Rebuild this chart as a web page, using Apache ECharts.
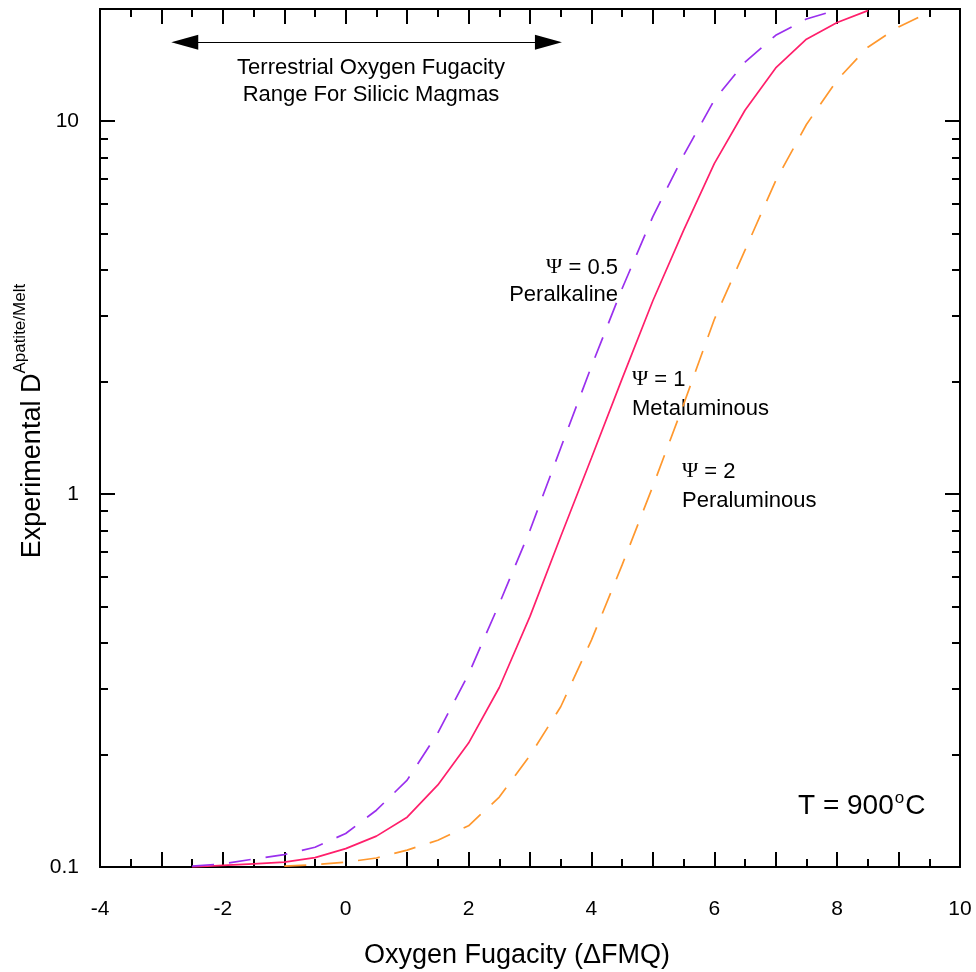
<!DOCTYPE html>
<html>
<head>
<meta charset="utf-8">
<script src="https://cdn.jsdelivr.net/npm/echarts@6/dist/echarts.min.js"></script>
<style>
  html, body { margin: 0; padding: 0; background: #fff; }
  #chart { width: 976px; height: 972px; }
</style>
</head>
<body>
<div id="chart"></div>
<script>
// Oxygen fugacity relative to FMQ buffer (x) — nodes every 0.5 log unit
const dfmq = [-2.5, -2, -1.5, -1, -0.5, 0, 0.5, 1, 1.5, 2, 2.5, 3, 3.5, 4, 4.5,
              5, 5.5, 6, 6.5, 7, 7.5, 8, 8.5, 9, 9.5];

// D(apatite/melt) for three melt compositions (null = outside the curve)
const dPeralkaline = [0.1005, 0.102, 0.105, 0.108, 0.113, 0.123, 0.142, 0.171, 0.229, 0.329,
                      0.508, 0.80, 1.33, 2.2, 3.56, 5.55, 8.1, 11.4, 14.4, 17.0,
                      18.8, 19.9, null, null, null];
const dMetaluminous = [0.1, 0.101, 0.102, 0.103, 0.106, 0.112, 0.121, 0.136, 0.166, 0.215,
                       0.303, 0.47, 0.77, 1.25, 2.04, 3.3, 5.1, 7.7, 10.7, 13.9,
                       16.6, 18.4, 19.8, null, null];
const dPeraluminous = [null, null, null, 0.1005, 0.1015, 0.103, 0.1057, 0.111, 0.118, 0.129,
                       0.154, 0.199, 0.269, 0.406, 0.646, 1.05, 1.74, 2.94, 4.51, 6.93,
                       9.8, 12.9, 15.8, 17.9, 19.6];

// Axis ticks
const xMin = -4, xMax = 10;
const yMin = 0.1, yMax = 20;
const yMajorTicks = [0.1, 1, 10];
const yMinorTicks = [0.2, 0.3, 0.4, 0.5, 0.6, 0.7, 0.8, 0.9, 2, 3, 4, 5, 6, 7, 8, 9];

// Terrestrial fO2 range for silicic magmas (arrow ends) and its height
const rangeStart = -2.62, rangeEnd = 3.30, rangeLevel = 16.3;

const pairs = (ys) => dfmq.map((x, i) => [x, ys[i]]).filter(p => p[1] !== null);

const SANS = 'Liberation Sans, Arial, sans-serif';
const SERIF = 'Liberation Serif, Times New Roman, serif';
const INK = '#000';

const chart = echarts.init(document.getElementById('chart'), null, { renderer: 'canvas' });

const baseX = {
  type: 'value', min: xMin, max: xMax, interval: 1,
  axisLine: { show: true, onZero: false, lineStyle: { color: INK, width: 2 } },
  axisTick: { show: true, inside: true, length: 15, lineStyle: { color: INK, width: 2 } },
  minorTick: { show: true, splitNumber: 2, length: 8, lineStyle: { color: INK, width: 2 } },
  splitLine: { show: false },
  minorSplitLine: { show: false }
};

function logAxis(position, ticks, len, labels) {
  return {
    type: 'log', logBase: 10, min: yMin, max: yMax, position: position,
    axisLine: { show: true, onZero: false, lineStyle: { color: INK, width: 2 } },
    axisTick: { show: true, inside: true, length: len, customValues: ticks,
                lineStyle: { color: INK, width: 2 } },
    axisLabel: labels ? {
      show: true, customValues: ticks, margin: 21,
      color: INK, fontFamily: SANS, fontSize: 21,
      formatter: (v) => String(v)
    } : { show: false },
    splitLine: { show: false }
  };
}

const dash = [22, 15];

const option = {
  animation: false,
  backgroundColor: '#fff',
  grid: { left: 100, right: 16, top: 9, bottom: 105, containLabel: false },
  xAxis: [
    Object.assign({}, baseX, {
      position: 'bottom',
      axisLabel: {
        show: true, margin: 32, color: INK, fontFamily: SANS, fontSize: 21,
        formatter: (v) => (v % 2 === 0 ? String(v) : '')
      }
    }),
    Object.assign({}, baseX, { position: 'top', axisLabel: { show: false } })
  ],
  yAxis: [
    logAxis('left', yMajorTicks, 15, true),
    logAxis('left', yMinorTicks, 8, false),
    logAxis('right', yMajorTicks, 15, false),
    logAxis('right', yMinorTicks, 8, false)
  ],
  series: [
    {
      name: 'Ψ = 1 Metaluminous', type: 'line', data: pairs(dMetaluminous),
      showSymbol: false, symbol: 'none', clip: true,
      lineStyle: { color: '#ff1f6b', width: 1.7, type: 'solid' },
      silent: true
    },
    {
      name: 'Ψ = 0.5 Peralkaline', type: 'line', data: pairs(dPeralkaline),
      showSymbol: false, symbol: 'none', clip: true,
      lineStyle: { color: '#9a30ee', width: 1.7, type: dash },
      silent: true
    },
    {
      name: 'Ψ = 2 Peraluminous', type: 'line', data: pairs(dPeraluminous),
      showSymbol: false, symbol: 'none', clip: true,
      lineStyle: { color: '#ff982e', width: 1.7, type: dash },
      silent: true
    },
    {
      name: 'range', type: 'line', data: [], silent: true,
      markLine: {
        silent: true, animation: false,
        symbol: ['triangle', 'triangle'], symbolSize: [15, 27],
        label: { show: false },
        lineStyle: { color: INK, width: 1.1, type: 'solid' },
        itemStyle: { color: INK },
        emphasis: { disabled: true },
        data: [[{ coord: [rangeStart, rangeLevel] }, { coord: [rangeEnd, rangeLevel] }]]
      }
    }
  ],
  graphic: [
    {
      type: 'text', x: 371, y: 81, silent: true,
      style: { text: 'Terrestrial Oxygen Fugacity\nRange For Silicic Magmas',
               fill: INK, font: '22px ' + SANS, align: 'center', verticalAlign: 'middle',
               lineHeight: 27 }
    },
    {
      type: 'text', x: 618, y: 281, silent: true,
      style: { text: '{p|Ψ} = 0.5\nPeralkaline', fill: INK, font: '22px ' + SANS,
               align: 'right', verticalAlign: 'middle', lineHeight: 27,
               rich: { p: { fontFamily: SERIF, fontSize: 22, lineHeight: 27 } } }
    },
    {
      type: 'text', x: 632, y: 394, silent: true,
      style: { text: '{p|Ψ} = 1\nMetaluminous', fill: INK, font: '22px ' + SANS,
               align: 'left', verticalAlign: 'middle', lineHeight: 29,
               rich: { p: { fontFamily: SERIF, fontSize: 22, lineHeight: 29 } } }
    },
    {
      type: 'text', x: 682, y: 486, silent: true,
      style: { text: '{p|Ψ} = 2\nPeraluminous', fill: INK, font: '22px ' + SANS,
               align: 'left', verticalAlign: 'middle', lineHeight: 29,
               rich: { p: { fontFamily: SERIF, fontSize: 22, lineHeight: 29 } } }
    },
    {
      type: 'text', x: 798, y: 805, silent: true,
      style: { text: '{n|T = 900}{s|o}{n|C}', fill: INK, align: 'left', verticalAlign: 'middle',
               rich: {
                 n: { fontFamily: SANS, fontSize: 28, lineHeight: 30, verticalAlign: 'bottom' },
                 s: { fontFamily: SANS, fontSize: 17, lineHeight: 30, verticalAlign: 'top', padding: [0, 1, 0, 1] }
               } }
    },
    {
      type: 'text', x: 517, y: 956, silent: true,
      style: { text: 'Oxygen Fugacity (ΔFMQ)', fill: INK, font: '27px ' + SANS,
               align: 'center', verticalAlign: 'middle' }
    },
    {
      type: 'text', x: 29, y: 421, rotation: Math.PI / 2, silent: true,
      style: { text: '{m|Experimental D}{s|Apatite/Melt}', fill: INK,
               align: 'center', verticalAlign: 'middle',
               rich: {
                 m: { fontFamily: SANS, fontSize: 27, lineHeight: 34, verticalAlign: 'bottom' },
                 s: { fontFamily: SANS, fontSize: 17, lineHeight: 34, verticalAlign: 'top' }
               } }
    }
  ]
};

chart.setOption(option);
</script>
</body>
</html>
